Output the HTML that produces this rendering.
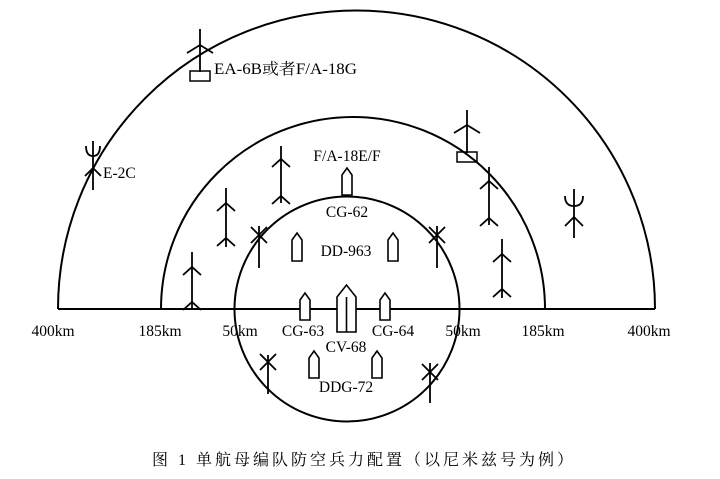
<!DOCTYPE html>
<html><head><meta charset="utf-8"><style>html,body{margin:0;padding:0;background:#fff}svg{display:block}</style></head><body>
<svg width="720" height="479" viewBox="0 0 720 479" xmlns="http://www.w3.org/2000/svg" font-family="Liberation Serif, Noto Serif CJK SC, serif" font-size="15.5">
<g fill="none" stroke="#000" stroke-width="2">
<path d="M58 309 A298.5 298.5 0 0 1 655 309"/>
<path d="M161 309 A192 192 0 0 1 545 309"/>
<circle cx="347" cy="309" r="112.5"/>
<line x1="58" y1="309" x2="655" y2="309"/>
</g>
<g fill="none" stroke="#000" stroke-width="1.8">
<line x1="200" y1="29" x2="200" y2="72"/><polyline points="187,53 200,45 213,53"/><rect x="190" y="71" width="20" height="10" stroke-width="1.5"/>
<line x1="467" y1="110" x2="467" y2="153"/><polyline points="454,133 467,125 480,133"/><rect x="457" y="152" width="20" height="10" stroke-width="1.5"/>
<line x1="93" y1="141" x2="93" y2="190"/><path d="M86 146 Q86 156 93 156 Q100 156 100 146"/><polyline points="85,176 93,168 101,176"/>
<line x1="574" y1="189" x2="574" y2="238"/><path d="M565 196 Q565 206 574 206 Q583 206 583 196"/><polyline points="565,226 574,217 583,226"/>
<line x1="281" y1="146" x2="281" y2="203"/><polyline points="272,167 281,159 290,167"/><polyline points="272,204 281,196 290,204"/>
<line x1="226" y1="188" x2="226" y2="247"/><polyline points="217,211 226,203 235,211"/><polyline points="217,246 226,238 235,246"/>
<line x1="192" y1="252" x2="192" y2="309"/><polyline points="183,275 192,267 201,275"/><polyline points="183,310 192,302 201,310"/>
<line x1="489" y1="167" x2="489" y2="225"/><polyline points="480,189 489,181 498,189"/><polyline points="480,226 489,218 498,226"/>
<line x1="502" y1="239" x2="502" y2="298"/><polyline points="493,262 502,254 511,262"/><polyline points="493,297 502,289 511,297"/>
<line x1="259" y1="226" x2="259" y2="268"/><path d="M251 227 L267 243 M267 227 L251 243"/>
<line x1="437" y1="226" x2="437" y2="268"/><path d="M429 227 L445 243 M445 227 L429 243"/>
<line x1="268" y1="355" x2="268" y2="394"/><path d="M260 354 L276 370 M276 354 L260 370"/>
<line x1="430" y1="363" x2="430" y2="403"/><path d="M422 364 L438 380 M438 364 L422 380"/>
</g>
<g fill="#fff" stroke="#000" stroke-width="1.6">
<path d="M342 195 V175 L347 168 L352 175 V195 Z"/>
<path d="M292 261 V240 L297 233 L302 240 V261 Z"/>
<path d="M388 261 V240 L393 233 L398 240 V261 Z"/>
<path d="M300 320 V300 L305 293 L310 300 V320 Z"/>
<path d="M380 320 V300 L385 293 L390 300 V320 Z"/>
<path d="M337 332 V297 L346.5 285 L356 297 V332 Z"/><line x1="346.5" y1="297" x2="346.5" y2="332"/>
<path d="M309 378 V358 L314 351 L319 358 V378 Z"/>
<path d="M372 378 V358 L377 351 L382 358 V378 Z"/>
</g>
<g fill="#000">
<text x="214" y="74" textLength="143" lengthAdjust="spacingAndGlyphs">EA-6B或者F/A-18G</text>
<text x="103" y="178">E-2C</text>
<text x="347" y="161" text-anchor="middle">F/A-18E/F</text>
<text x="347" y="217" text-anchor="middle">CG-62</text>
<text x="346" y="256" text-anchor="middle">DD-963</text>
<text x="53" y="336" text-anchor="middle">400km</text>
<text x="160" y="336" text-anchor="middle">185km</text>
<text x="240" y="336" text-anchor="middle">50km</text>
<text x="303" y="336" text-anchor="middle">CG-63</text>
<text x="393" y="336" text-anchor="middle">CG-64</text>
<text x="463" y="336" text-anchor="middle">50km</text>
<text x="543" y="336" text-anchor="middle">185km</text>
<text x="649" y="336" text-anchor="middle">400km</text>
<text x="346" y="352" text-anchor="middle">CV-68</text>
<text x="346" y="392" text-anchor="middle">DDG-72</text>
<text x="152" y="465" font-size="16" textLength="421" lengthAdjust="spacing">图 1  单航母编队防空兵力配置（以尼米兹号为例）</text>
</g>
</svg>
</body></html>
